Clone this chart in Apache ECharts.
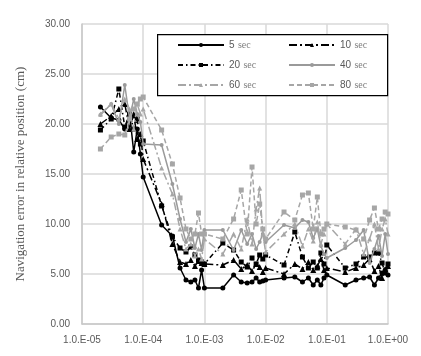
<!DOCTYPE html>
<html><head><meta charset="utf-8">
<script src="https://cdn.jsdelivr.net/npm/echarts@6/dist/echarts.min.js"></script>
<style>html,body{margin:0;padding:0;background:#fff}#c{width:421px;height:356px}</style>
</head><body><div id="c"></div>
<script>
// x sample points (log scale)
const xValues = [2e-5,3e-5,4e-5,5e-5,6e-5,7e-5,8e-5,9e-5,
  1e-4,2e-4,3e-4,4e-4,5e-4,6e-4,7e-4,8e-4,9e-4,
  1e-3,2e-3,3e-3,4e-3,5e-3,6e-3,7e-3,8e-3,9e-3,
  1e-2,2e-2,3e-2,4e-2,5e-2,6e-2,7e-2,8e-2,9e-2,
  1e-1,2e-1,3e-1,4e-1,5e-1,6e-1,7e-1,8e-1,9e-1,1e0];
const seriesNames = ['5 sec','10 sec','20 sec','40 sec','60 sec','80 sec'];
const sec5  = [21.7,20.6,20.4,19.5,21.0,17.2,19.5,17.0, 14.7,9.9,8.8,5.6,4.4,4.2,4.4,3.6,5.4, 3.6,3.6,4.9,4.2,4.1,4.2,4.6,4.2,4.3, 4.4,4.6,4.7,4.2,4.6,3.9,4.4,3.9,4.6, 4.9,3.9,4.4,4.6,4.7,3.9,4.6,5.1,5.4,4.9];
const sec10 = [20.0,20.8,21.5,22.0,19.5,21.0,18.5,19.0, 16.5,12.0,8.0,6.2,6.0,6.4,5.8,6.3,6.1, 6.0,5.9,6.4,5.5,5.9,5.3,6.0,5.7,5.2, 5.6,5.0,6.0,5.5,6.2,5.4,5.8,6.5,5.4, 5.6,5.2,5.6,5.9,6.5,5.3,5.8,4.6,5.5,5.8];
const sec20 = [19.4,20.5,23.5,19.7,21.0,19.5,20.5,18.0, 18.3,11.8,8.7,7.6,7.2,7.7,6.9,6.4,6.2, 6.0,8.1,7.4,6.2,5.7,6.6,6.0,6.9,6.5, 6.9,5.9,9.2,6.7,5.6,6.2,5.6,7.1,6.0, 7.9,5.6,6.0,6.7,6.7,7.1,7.1,6.1,5.1,6.0];
const sec40 = [20.9,22.0,20.0,23.9,20.5,22.5,21.0,20.2, 18.0,17.9,14.0,10.5,8.2,9.5,7.6,9.0,7.4, 9.4,9.4,7.4,9.4,8.0,9.0,7.5,8.2,9.0, 8.2,9.9,9.6,10.4,10.2,8.6,9.5,7.8,7.0, 6.6,7.6,8.4,9.4,6.1,7.5,8.8,6.8,9.0,7.0];
const sec60 = [21.0,22.0,20.5,22.5,21.5,19.5,22.0,21.0, 21.5,15.6,13.0,9.5,7.5,8.0,6.8,7.5,6.5, 8.5,7.0,9.0,7.5,10.5,8.0,11.5,13.6,9.0, 7.2,9.0,10.0,7.8,9.5,8.3,10.2,8.0,9.0, 10.0,8.0,9.5,7.0,8.5,10.0,7.5,9.5,10.5,9.0];
const sec80 = [17.5,18.7,19.0,18.9,20.5,21.5,22.0,22.5, 22.7,19.4,16.0,12.6,9.5,8.5,9.0,11.1,9.0, 9.0,8.5,10.5,13.4,9.0,15.7,10.0,12.0,9.5, 8.5,11.2,10.4,12.9,13.1,9.5,12.7,9.0,9.5, 10.0,9.7,9.4,8.5,10.4,11.6,9.5,10.5,11.2,11.0];
const yTicks = [0,5,10,15,20,25,30];

const allValues = [sec5,sec10,sec20,sec40,sec60,sec80];
const styles = [
  {color:'#000000', symbol:'circle',   size:5, type:'solid'},
  {color:'#000000', symbol:'triangle', size:6, type:[8,3,2,3]},
  {color:'#000000', symbol:'rect',     size:5, type:[5,3,1.5,3]},
  {color:'#9a9a9a', symbol:'circle',   size:4, type:'solid'},
  {color:'#a6a6a6', symbol:'triangle', size:5, type:[8,3,2,3]},
  {color:'#a6a6a6', symbol:'rect',     size:5, type:[5,3]}
];
const series = seriesNames.map((name,i)=>({
  name, type:'line',
  data: xValues.map((x,j)=>[x, allValues[i][j]]),
  symbol: styles[i].symbol, symbolSize: styles[i].size,
  itemStyle:{color:styles[i].color},
  lineStyle:{color:styles[i].color, width:1.5, type:styles[i].type},
  z: 2+i
}));

function fmtX(v){
  const e = Math.round(Math.log10(v));
  const s = e<0 ? '-' : '+';
  const a = Math.abs(e);
  return '1.0.E' + s + (a<10?'0':'') + a;
}
const legendText = {
  color:'#595959',
  rich:{n:{fontFamily:'Liberation Sans', fontSize:10, color:'#595959'},
        s:{fontFamily:'Liberation Serif', fontSize:10, color:'#7f7f7f'}}
};
const legendFmt = n => { const p=n.split(' '); return '{n|'+p[0]+'} {s|'+p[1]+'}'; };
const legendBase = {orient:'vertical', top:39, padding:0, itemWidth:46, itemHeight:5, itemGap:8,
  formatter:legendFmt, textStyle:legendText};

const chart = echarts.init(document.getElementById('c'), null, {renderer:'canvas'});
chart.setOption({
  animation:false,
  backgroundColor:'#ffffff',
  grid:{left:82, right:33, top:24, bottom:32},
  graphic:[{type:'rect', left:157, top:34, shape:{width:230, height:61},
    style:{fill:'#ffffff', stroke:'#000000', lineWidth:1.2}, z:10}],
  legend:[
    Object.assign({left:177, data:[seriesNames[0],seriesNames[2],seriesNames[4]], z:20}, legendBase),
    Object.assign({left:288, data:[seriesNames[1],seriesNames[3],seriesNames[5]], z:20}, legendBase)
  ],
  xAxis:{
    type:'log', logBase:10, min:1e-5, max:1,
    axisLine:{show:true, onZero:false, lineStyle:{color:'#c8c8c8', width:1.5}},
    axisTick:{show:false},
    splitLine:{show:true, lineStyle:{color:'#d9d9d9', width:1.5}},
    axisLabel:{formatter:fmtX, color:'#595959', fontFamily:'Liberation Sans', fontSize:10, margin:11}
  },
  yAxis:{
    type:'value', min:yTicks[0], max:yTicks[yTicks.length-1], interval:5,
    name:'Navigation error in relative position (cm)',
    nameLocation:'middle', nameGap:55, nameRotate:90,
    nameTextStyle:{fontFamily:'Liberation Serif', fontSize:13, color:'#595959'},
    axisLine:{show:true, lineStyle:{color:'#c8c8c8', width:1.5}},
    axisTick:{show:false},
    splitLine:{show:true, lineStyle:{color:'#d9d9d9', width:1.5}},
    axisLabel:{formatter:v=>v.toFixed(2), color:'#595959', fontFamily:'Liberation Sans', fontSize:10, margin:12}
  },
  series
});
</script></body></html>
